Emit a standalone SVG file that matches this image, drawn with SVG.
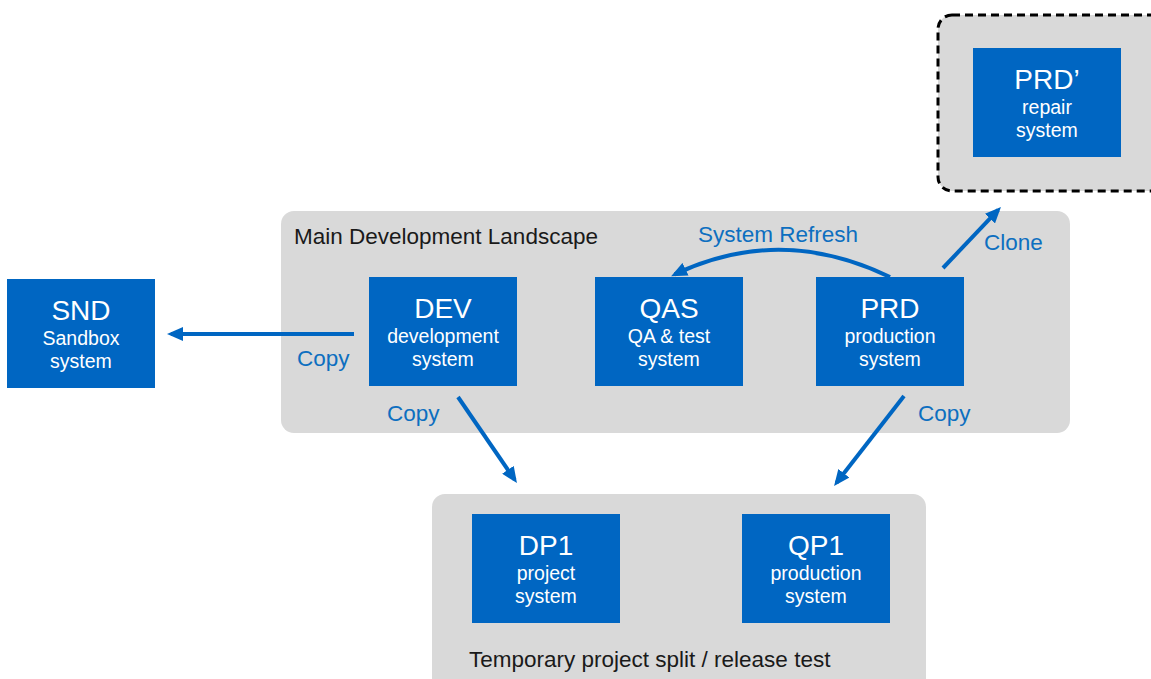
<svg xmlns="http://www.w3.org/2000/svg" width="1151" height="679" viewBox="0 0 1151 679">
<style>
.cont{fill:#d9d9d9}
.node{fill:#0066c2}
.t1{font-family:"Liberation Sans",Arial,sans-serif;font-size:28px;fill:#fff;text-anchor:middle}
.t2{font-family:"Liberation Sans",Arial,sans-serif;font-size:19.5px;fill:#fff;text-anchor:middle}
.lbl{font-family:"Liberation Sans",Arial,sans-serif;font-size:22.5px;fill:#0d6fc0}
.ctitle{font-family:"Liberation Sans",Arial,sans-serif;font-size:22.5px;fill:#1a1a1a}
.conn{fill:none;stroke:#0066c2;stroke-width:4;marker-end:url(#ah)}
</style>
<defs>
<marker id="ah" markerUnits="userSpaceOnUse" markerWidth="16" markerHeight="14" viewBox="0 0 16 14" refX="12" refY="7" orient="auto">
<path d="M0,0 L16,7 L0,14 z" fill="#0066c2"/>
</marker>
</defs>
<rect width="1151" height="679" fill="#fff"/>

<g id="repair-container">
<rect x="938" y="15" width="230" height="176" rx="14" class="cont" stroke="#000" stroke-width="3" stroke-dasharray="8 5"/>
</g>
<g id="main-landscape">
<rect x="281" y="211" width="789" height="222" rx="13" class="cont"/>
<text x="294" y="244" class="ctitle">Main Development Landscape</text>
</g>
<g id="temp-landscape">
<rect x="432" y="494" width="494" height="200" rx="13" class="cont"/>
<text x="469" y="667" class="ctitle">Temporary project split / release test</text>
</g>

<g id="connectors">
<line x1="354" y1="334" x2="171" y2="334" class="conn"/>
<line x1="458" y1="397" x2="514.7" y2="479.7" class="conn"/>
<line x1="904" y1="396" x2="836.5" y2="482.8" class="conn"/>
<line x1="943" y1="268" x2="998.2" y2="209.9" class="conn"/>
<path d="M890,277 Q780,224 674.7,274.4" class="conn"/>
<text x="297" y="366" class="lbl">Copy</text>
<text x="387" y="421" class="lbl">Copy</text>
<text x="918" y="421" class="lbl">Copy</text>
<text x="984" y="250" class="lbl">Clone</text>
<text x="698" y="242" class="lbl">System Refresh</text>
</g>

<g id="PRD2">
<rect x="973" y="48" width="148" height="109" class="node"/>
<text x="1047" y="89" class="t1">PRD’</text>
<text x="1047" y="114" class="t2">repair</text>
<text x="1047" y="137" class="t2">system</text>
</g>
<g id="SND">
<rect x="7" y="279" width="148" height="109" class="node"/>
<text x="81" y="320" class="t1">SND</text>
<text x="81" y="345" class="t2">Sandbox</text>
<text x="81" y="368" class="t2">system</text>
</g>
<g id="DEV">
<rect x="369" y="277" width="148" height="109" class="node"/>
<text x="443" y="318" class="t1">DEV</text>
<text x="443" y="343" class="t2">development</text>
<text x="443" y="366" class="t2">system</text>
</g>
<g id="QAS">
<rect x="595" y="277" width="148" height="109" class="node"/>
<text x="669" y="318" class="t1">QAS</text>
<text x="669" y="343" class="t2">QA &amp; test</text>
<text x="669" y="366" class="t2">system</text>
</g>
<g id="PRD">
<rect x="816" y="277" width="148" height="109" class="node"/>
<text x="890" y="318" class="t1">PRD</text>
<text x="890" y="343" class="t2">production</text>
<text x="890" y="366" class="t2">system</text>
</g>
<g id="DP1">
<rect x="472" y="514" width="148" height="109" class="node"/>
<text x="546" y="555" class="t1">DP1</text>
<text x="546" y="580" class="t2">project</text>
<text x="546" y="603" class="t2">system</text>
</g>
<g id="QP1">
<rect x="742" y="514" width="148" height="109" class="node"/>
<text x="816" y="555" class="t1">QP1</text>
<text x="816" y="580" class="t2">production</text>
<text x="816" y="603" class="t2">system</text>
</g>
</svg>
